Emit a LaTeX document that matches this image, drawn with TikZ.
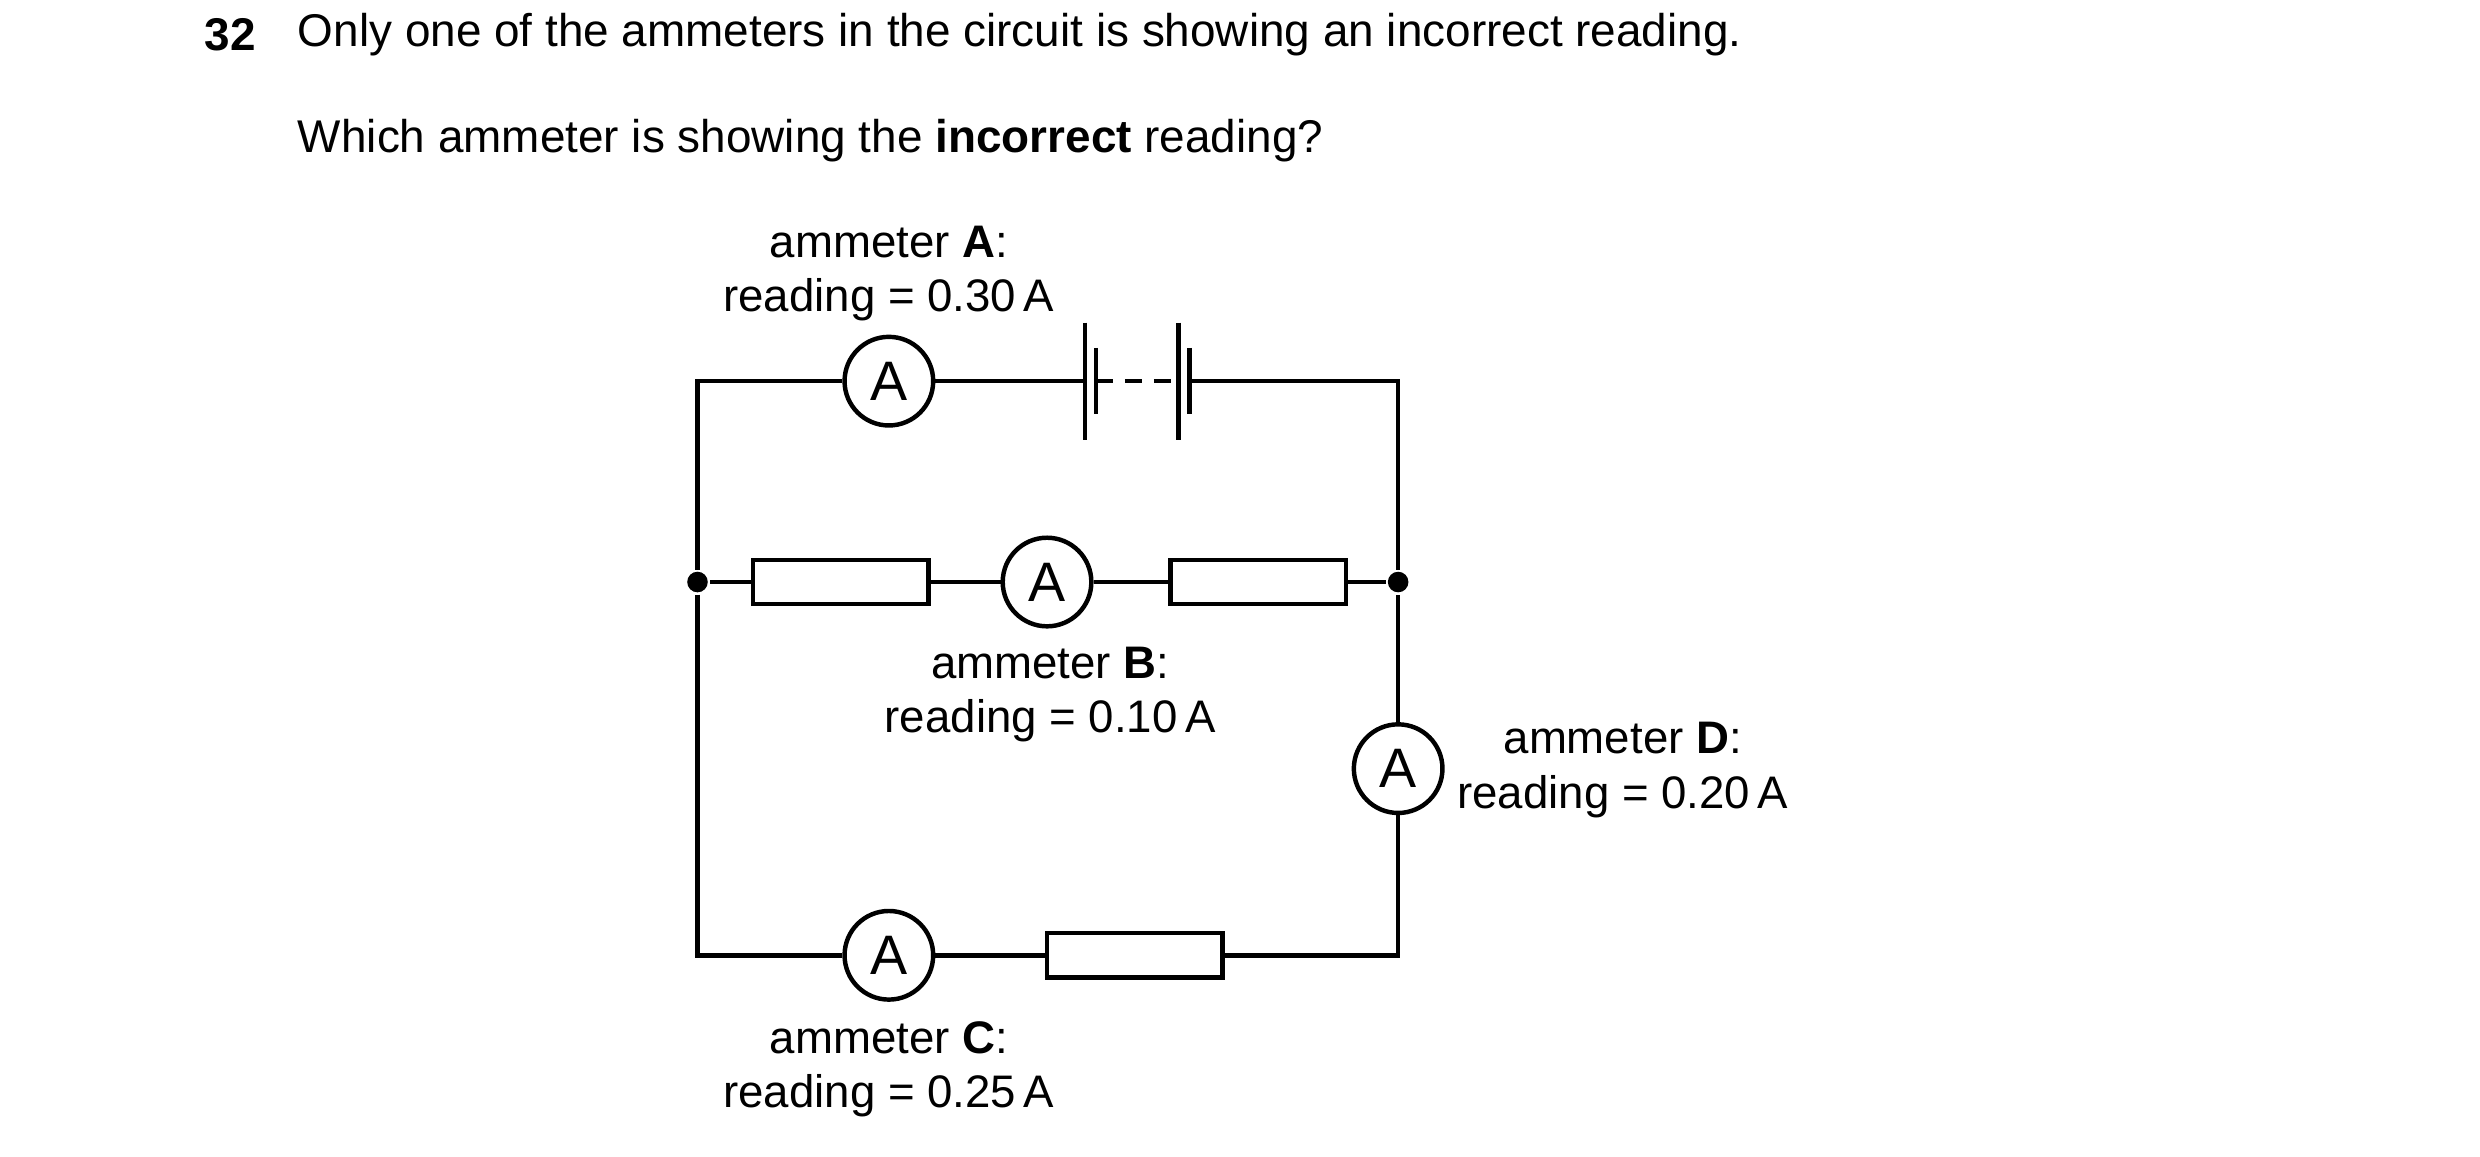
\documentclass[tikz,border=0pt]{standalone}
\usepackage{fontspec}
\setmainfont{Liberation Sans}
\usetikzlibrary{positioning}
\begin{document}
\begin{tikzpicture}[x=0.01cm,y=-0.01cm,line width=0.8pt,
  meter/.style = {draw, circle, minimum size=0.56cm, inner sep=0pt, fill=white},
  res/.style = {draw, rectangle, minimum width=1.11cm, minimum height=0.28cm, inner sep=0pt, fill=white},
  dot/.style = {circle, fill, inner sep=0pt, minimum size=0.13cm},
  lbl/.style = {align=center, font=\fontsize{8.2pt}{9.8pt}\selectfont},
  txt/.style = {anchor=west, inner sep=0pt, font=\fontsize{8.25pt}{9pt}\selectfont}]
\useasboundingbox (0,0) rectangle (1568,731);
% question
\node[txt, anchor=east] (num) at (163,22) {\textbf{32}};
\node[txt] (q1) at (187,22) {Only one of the ammeters in the circuit is showing an incorrect reading.};
\node[txt] (q2) at (187,89) {Which ammeter is showing the \textbf{incorrect} reading?};
% corners and junctions
\coordinate (tl) at (441,241);
\coordinate (tr) at (884,241);
\coordinate (bl) at (441,604);
\coordinate (br) at (884,604);
\node[dot] (jl) at (441,368) {};
\node[dot] (jr) at (884,368) {};
% battery
\coordinate (b1) at (686,241);
\coordinate (b2) at (693,241);
\coordinate (b3) at (745,241);
\coordinate (b4) at (752,241);
% components
\node[meter] (mA) at (562,241) {A};
\node[res] (r1) at (531.5,368) {};
\node[meter] (mB) at (662,368) {A};
\node[res] (r2) at (795.5,368) {};
\node[meter] (mD) at (884,486) {A};
\node[meter] (mC) at (562,604) {A};
\node[res] (r3) at (717.5,604) {};
% wires
\draw (b1) -- (mA) -- (tl) -- (jl) -- (bl) -- (mC) -- (r3) -- (br) -- (mD) -- (jr) -- (tr) -- (b4);
\draw (jl) -- (r1) -- (mB) -- (r2) -- (jr);
\draw[dash pattern=on 3pt off 2.2pt] (b2) -- (b3);
\draw ([yshift=0.37cm]b1) -- ([yshift=-0.37cm]b1);
\draw ([yshift=0.21cm]b2) -- ([yshift=-0.21cm]b2);
\draw ([yshift=0.37cm]b3) -- ([yshift=-0.37cm]b3);
\draw ([yshift=0.21cm]b4) -- ([yshift=-0.21cm]b4);
% labels
\node[lbl] (lA) at (562,173) {ammeter \textbf{A}:\\reading = 0.30\,A};
\node[lbl] (lB) at (664,439) {ammeter \textbf{B}:\\reading = 0.10\,A};
\node[lbl] (lD) at (1026,487) {ammeter \textbf{D}:\\reading = 0.20\,A};
\node[lbl] (lC) at (562,676) {ammeter \textbf{C}:\\reading = 0.25\,A};
\end{tikzpicture}
\end{document}
